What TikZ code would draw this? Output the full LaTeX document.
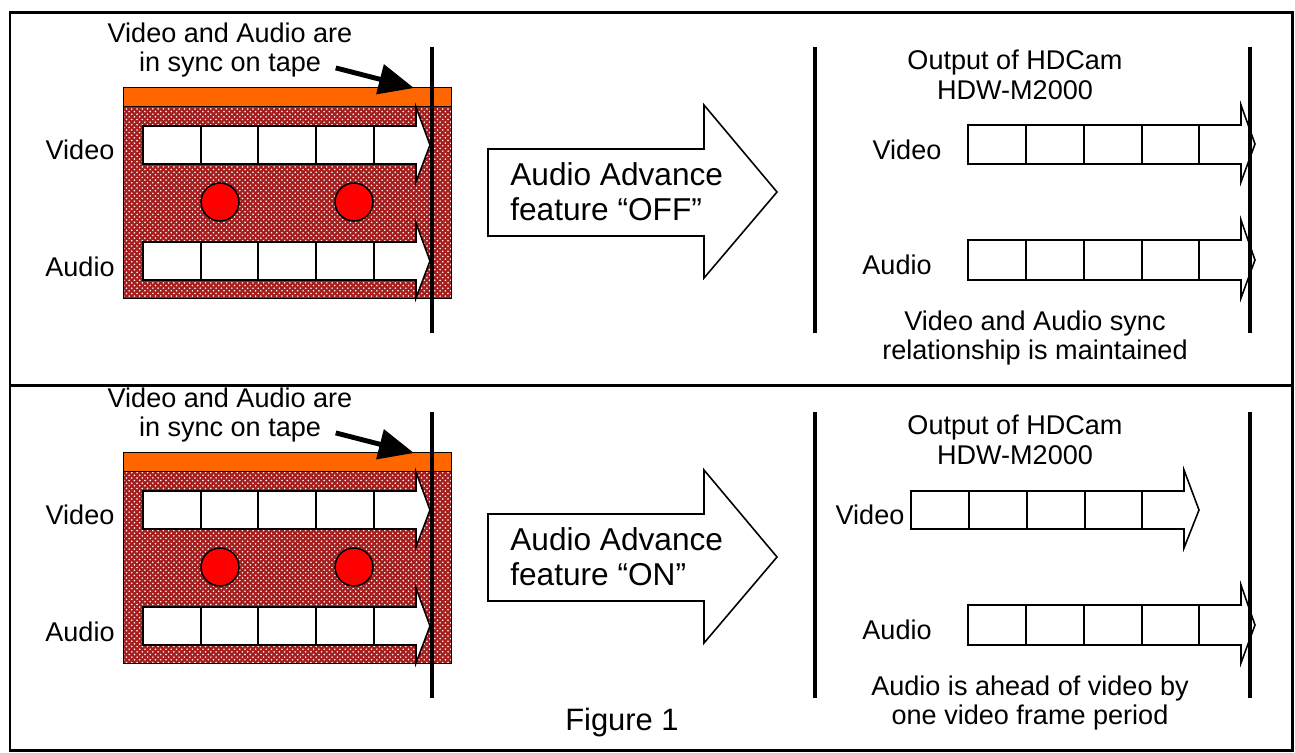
\documentclass[tikz,border=0pt]{standalone}
\usepackage{fontspec}
\setmainfont{Liberation Sans}
\usetikzlibrary{arrows.meta,patterns}
\definecolor{tapered}{RGB}{165,30,30}
\definecolor{tapeorange}{RGB}{255,102,0}
\definecolor{dotred}{RGB}{255,0,0}

\begin{document}
\begin{tikzpicture}[x=0.02cm,y=-0.02cm]
\tikzstyle{panel}=[draw,line width=1.7pt]
\tikzstyle{bar}=[line width=2.8pt]
\tikzstyle{pointer}=[line width=2.8pt,-{Triangle[length=20pt,width=17pt]}]
\tikzstyle{cellbox}=[draw,fill=white,line width=0.9pt,line join=miter]
\tikzstyle{txt}=[font=\fontsize{15.4}{17}\selectfont,align=center,inner sep=0pt]
\tikzstyle{bigtxt}=[font=\fontsize{18}{20}\selectfont,align=left,inner sep=0pt,anchor=west]
\tikzstyle{spot}=[draw,fill=dotred,line width=0.9pt,circle,minimum size=0.76cm,inner sep=0pt]
\useasboundingbox (0,0) rectangle (1295,752);

\draw[panel] (10,12) rectangle (1292,750);
\draw[panel] (10,385) -- (1292,385);

% top: off
\fill[tapered] (123,106) rectangle (451,298);
\fill[pattern=crosshatch dots,pattern color=white] (123,106) rectangle (451,298);
\draw[] (123,106) rectangle (451,298);
\draw[fill=tapeorange] (123,87) rectangle (451,106);
\draw[cellbox] (143,126) rectangle (374,164) (201,126) -- (201,164) (258,126) -- (258,164) (316,126) -- (316,164);
\draw[cellbox] (374,126) -- (416,126) -- (416,107) -- (430,145) -- (416,182) -- (416,164) -- (374,164) -- cycle;
\draw[cellbox] (143,242) rectangle (374,280) (201,242) -- (201,280) (258,242) -- (258,280) (316,242) -- (316,280);
\draw[cellbox] (374,242) -- (416,242) -- (416,223) -- (430,261) -- (416,298) -- (416,280) -- (374,280) -- cycle;
\path (220,202) node[spot](spotA1){} (354,202) node[spot](spotA2){};
\path (80,150) node[txt](vidA){Video} (80,267) node[txt](audA){Audio};
\path (230,50) node[txt](syncA){Video and Audio are\\in sync on tape};
\coordinate (tapeA) at (414,88);
\draw[bar] (432,47) -- (432,333);
\draw[pointer] ([xshift=-0.34cm,yshift=0.2cm]syncA.south east) -- (tapeA);

\draw[line width=0.9pt,fill=white] (488,149) -- (704,149) -- (704,105) -- (777,192) -- (704,278) -- (704,236) -- (488,236) -- cycle;
\path (510,192) node[bigtxt](advA){Audio Advance\\feature “OFF”};

\draw[cellbox] (968,125) rectangle (1199,164) (1026,125) -- (1026,164) (1084,125) -- (1084,164) (1142,125) -- (1142,164);
\draw[cellbox] (1199,125) -- (1241,125) -- (1241,105) -- (1255,144) -- (1241,182) -- (1241,164) -- (1199,164) -- cycle;
\draw[cellbox] (968,240) rectangle (1199,280) (1026,240) -- (1026,280) (1084,240) -- (1084,280) (1142,240) -- (1142,280);
\draw[cellbox] (1199,240) -- (1241,240) -- (1241,220) -- (1255,260) -- (1241,298) -- (1241,280) -- (1199,280) -- cycle;
\path (907,150) node[txt](vidA2){Video} (897,265) node[txt](audA2){Audio};
\path (1015,75) node[txt](outA){Output of HDCam\\HDW-M2000};
\path (1035,338) node[txt](noteA){Video and Audio sync\\relationship is maintained};
\draw[bar] (815,47) -- (815,333);
\draw[bar] (1250,47) -- (1250,333);

% bottom: on
\fill[tapered] (123,471) rectangle (451,663);
\fill[pattern=crosshatch dots,pattern color=white] (123,471) rectangle (451,663);
\draw[] (123,471) rectangle (451,663);
\draw[fill=tapeorange] (123,452) rectangle (451,471);
\draw[cellbox] (143,491) rectangle (374,529) (201,491) -- (201,529) (258,491) -- (258,529) (316,491) -- (316,529);
\draw[cellbox] (374,491) -- (416,491) -- (416,472) -- (430,510) -- (416,547) -- (416,529) -- (374,529) -- cycle;
\draw[cellbox] (143,607) rectangle (374,645) (201,607) -- (201,645) (258,607) -- (258,645) (316,607) -- (316,645);
\draw[cellbox] (374,607) -- (416,607) -- (416,588) -- (430,626) -- (416,663) -- (416,645) -- (374,645) -- cycle;
\path (220,567) node[spot](spotB1){} (354,567) node[spot](spotB2){};
\path (80,515) node[txt](vidB){Video} (80,632) node[txt](audB){Audio};
\path (230,415) node[txt](syncB){Video and Audio are\\in sync on tape};
\coordinate (tapeB) at (414,453);
\draw[bar] (432,412) -- (432,698);
\draw[pointer] ([xshift=-0.34cm,yshift=0.2cm]syncB.south east) -- (tapeB);

\draw[line width=0.9pt,fill=white] (488,514) -- (704,514) -- (704,470) -- (777,557) -- (704,643) -- (704,601) -- (488,601) -- cycle;
\path (510,557) node[bigtxt](advB){Audio Advance\\feature “ON”};

\draw[cellbox] (911,491) rectangle (1142,529) (969,491) -- (969,529) (1027,491) -- (1027,529) (1085,491) -- (1085,529);
\draw[cellbox] (1142,491) -- (1184,491) -- (1184,470) -- (1199,510) -- (1184,548) -- (1184,529) -- (1142,529) -- cycle;
\draw[cellbox] (968,605) rectangle (1199,645) (1026,605) -- (1026,645) (1084,605) -- (1084,645) (1142,605) -- (1142,645);
\draw[cellbox] (1199,605) -- (1241,605) -- (1241,585) -- (1255,625) -- (1241,663) -- (1241,645) -- (1199,645) -- cycle;
\path (870,515) node[txt](vidB2){Video} (897,630) node[txt](audB2){Audio};
\path (1015,440) node[txt](outB){Output of HDCam\\HDW-M2000};
\path (1030,703) node[txt](noteB){Audio is ahead of video by\\one video frame period};
\draw[bar] (815,412) -- (815,698);
\draw[bar] (1250,412) -- (1250,698);

\path (622,722) node[txt,font=\fontsize{17.6}{20}\selectfont](fig){Figure 1};
\end{tikzpicture}
\end{document}
